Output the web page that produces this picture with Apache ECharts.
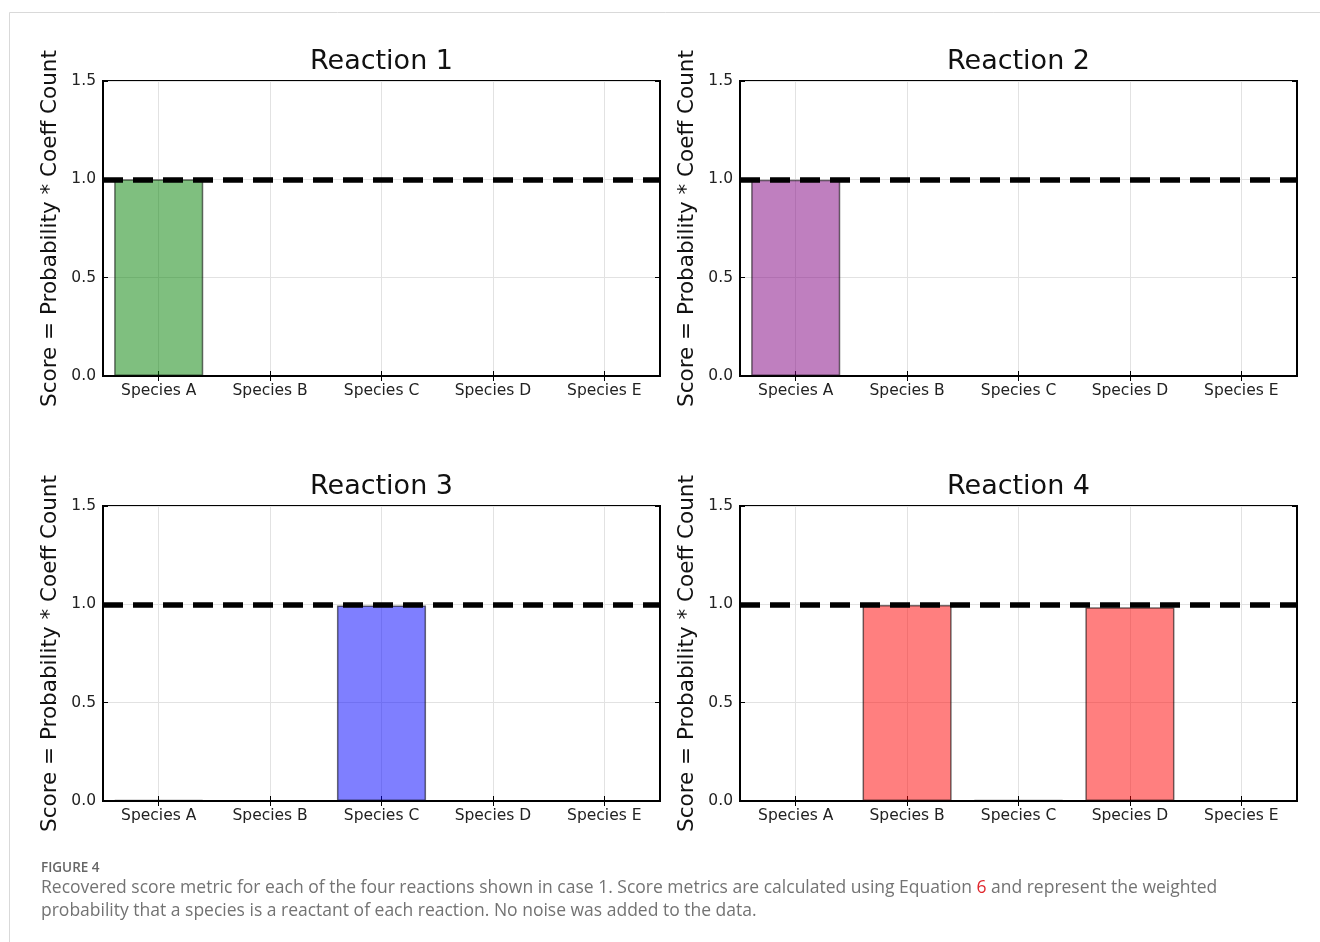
<!DOCTYPE html>
<html><head><meta charset="utf-8">
<script src="https://cdn.jsdelivr.net/npm/echarts@6/dist/echarts.min.js"></script>
<style>html,body{margin:0;padding:0;background:#fff}#c{width:1320px;height:942px}</style>
</head><body><div id="c"></div>
<script>
const categories = ['Species A', 'Species B', 'Species C', 'Species D', 'Species E'];
const reactionTitles = ['Reaction 1', 'Reaction 2', 'Reaction 3', 'Reaction 4'];
const reaction1 = [1.0, 0, 0.002, 0.002, 0.002];
const reaction2 = [0.998, 0, 0, 0.002, 0.002];
const reaction3 = [0.006, 0, 0.994, 0, 0.002];
const reaction4 = [0, 0.997, 0.004, 0.985, 0];
const barColors = ['rgba(0,128,0,0.5)', 'rgba(128,0,128,0.5)', 'rgba(0,0,255,0.5)', 'rgba(255,0,0,0.5)'];
const yMin = 0, yMax = 1.5, yInterval = 0.5;
const thresholdValue = 1.0;
const yAxisName = 'Score = Probability * Coeff Count';
const figureLabel = 'FIGURE 4';
const captionLine1a = 'Recovered score metric for each of the four reactions shown in case 1. Score metrics are calculated using Equation ';
const captionRef = '6';
const captionLine1b = ' and represent the weighted';
const captionLine2 = 'probability that a species is a reactant of each reaction. No noise was added to the data.';

const allData = [reaction1, reaction2, reaction3, reaction4];
const FONT = 'DejaVu Sans';
const CAP_FONT = 'Open Sans';
const CAP_SIZE = 17.5;
const gridPos = [[103, 81], [740, 81], [103, 506], [740, 506]];
const GW = 557, GH = 295;

const grids = [], xAxes = [], yAxes = [], series = [], titles = [];
gridPos.forEach((p, i) => {
  grids.push({left: p[0], top: p[1], width: GW, height: GH, show: true, borderColor: '#000', borderWidth: 2, backgroundColor: 'transparent'});
  xAxes.push({type: 'category', gridIndex: i, data: categories, position: 'bottom',
    axisLine: {show: true, lineStyle: {color: '#000', width: 2}},
    axisTick: {show: true, inside: true, alignWithLabel: true, length: 5, lineStyle: {color: '#000', width: 1}},
    splitLine: {show: true, alignWithLabel: true, lineStyle: {color: '#e2e2e2', width: 1}},
    axisLabel: {fontFamily: FONT, fontSize: 15.5, color: '#222', margin: 7}
  });
  xAxes.push({type: 'category', gridIndex: i, data: categories, position: 'top',
    axisLine: {show: false},
    axisTick: {show: true, inside: true, alignWithLabel: true, length: 5, lineStyle: {color: '#000', width: 1}},
    splitLine: {show: false}, axisLabel: {show: false}
  });
  yAxes.push({type: 'value', gridIndex: i, min: yMin, max: yMax, interval: yInterval, position: 'left',
    name: yAxisName, nameLocation: 'middle', nameGap: 42, nameRotate: 90,
    nameTextStyle: {fontFamily: FONT, fontSize: 21.5, color: '#111'},
    axisLine: {show: true, lineStyle: {color: '#000', width: 2}},
    axisTick: {show: true, inside: true, length: 5, lineStyle: {color: '#000', width: 1}},
    splitLine: {show: true, lineStyle: {color: '#e2e2e2', width: 1}},
    axisLabel: {fontFamily: FONT, fontSize: 15.5, color: '#222', margin: 7, padding: [4, 0, 0, 0], formatter: v => v.toFixed(1)}
  });
  yAxes.push({type: 'value', gridIndex: i, min: yMin, max: yMax, interval: yInterval, position: 'right',
    axisLine: {show: false},
    axisTick: {show: true, inside: true, length: 5, lineStyle: {color: '#000', width: 1}},
    splitLine: {show: false}, axisLabel: {show: false}
  });
  series.push({type: 'bar', xAxisIndex: 2 * i, yAxisIndex: 2 * i, data: allData[i], barWidth: '80%',
    itemStyle: {color: barColors[i], borderColor: 'rgba(0,0,0,0.55)', borderWidth: 1.5},
    animation: false, silent: true,
    markLine: {silent: true, symbol: ['none', 'none'], label: {show: false}, animation: false,
      lineStyle: {color: '#000', width: 5.5, type: [20, 10]},
      data: [{yAxis: thresholdValue}]}
  });
  titles.push({text: reactionTitles[i], left: p[0] + GW / 2, top: p[1] - 33, textAlign: 'center', padding: 0,
    textStyle: {fontFamily: FONT, fontSize: 27, fontWeight: 'normal', color: '#111'}});
});

titles.push({text: figureLabel, left: 41, top: 861, padding: 0,
  textStyle: {fontFamily: CAP_FONT, fontSize: 13.5, fontWeight: 600, color: '#666'}});
titles.push({text: '{a|' + captionLine1a + '}{r|' + captionRef + '}{a|' + captionLine1b + '}', left: 41, top: 879, padding: 0,
  textStyle: {fontWeight: 'normal', rich: {
    a: {fontFamily: CAP_FONT, fontSize: CAP_SIZE, fontWeight: 'normal', color: '#737373'},
    r: {fontFamily: CAP_FONT, fontSize: CAP_SIZE, fontWeight: 'normal', color: '#e0282e'}}}});
titles.push({text: captionLine2, left: 41, top: 902, padding: 0,
  textStyle: {fontFamily: CAP_FONT, fontSize: CAP_SIZE, fontWeight: 'normal', color: '#737373'}});

const chart = echarts.init(document.getElementById('c'), null, {renderer: 'canvas'});
chart.setOption({
  backgroundColor: '#fff',
  animation: false,
  title: titles,
  grid: grids,
  xAxis: xAxes,
  yAxis: yAxes,
  series: series,
  graphic: [{type: 'rect', silent: true, shape: {x: 9.5, y: 12.5, width: 1400, height: 1000},
    style: {fill: 'none', stroke: '#d9d9d9', lineWidth: 1}}]
});
</script></body></html>
